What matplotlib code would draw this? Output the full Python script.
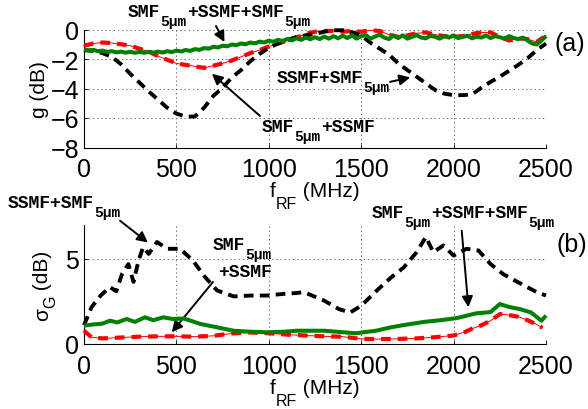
import numpy as np
import matplotlib
matplotlib.use("Agg")
import matplotlib.pyplot as plt

plt.rcParams['lines.scale_dashes'] = False

# ---------------- data ----------------
# (a) gain g (dB) versus RF frequency (MHz)
f_a = np.arange(0, 2501, 50)
g_ssmf_smf5 = [-1.40, -1.45, -1.60, -1.85, -2.35, -3.00, -3.60, -4.20, -4.75, -5.30,
               -5.70, -5.90, -5.90, -5.30, -4.50, -3.95, -3.25, -2.75, -2.15, -1.65,
               -1.25, -0.95, -0.72, -0.50, -0.40, -0.30, -0.15, -0.05, -0.05, -0.20,
               -0.40, -0.90, -1.30, -1.70, -2.30, -2.75, -3.20, -3.65, -4.10, -4.35,
               -4.45, -4.45, -4.40, -3.95, -3.55, -3.20, -2.80, -2.40, -1.95, -1.40,
               -0.95]
g_smf5_ssmf = [-1.10, -0.95, -0.88, -0.92, -1.00, -1.10, -1.30, -1.50, -1.80, -2.05,
               -2.30, -2.40, -2.50, -2.60, -2.45, -2.30, -2.10, -1.85, -1.60, -1.40,
               -1.15, -0.95, -0.75, -0.55, -0.30, -0.15, -0.10, -0.10, -0.15, -0.10,
               -0.15, -0.05, -0.10, -0.35, -0.50, -0.40, -0.25, -0.20, -0.35, -0.45,
               -0.50, -0.45, -0.30, -0.20, -0.20, -0.50, -0.75, -0.60, -0.65, -0.85,
               -0.40]
f_a_fine = np.arange(0, 2501, 25)
g_smf5_ssmf_smf5 = [-1.35, -1.42, -1.38, -1.47, -1.43, -1.52, -1.47, -1.55, -1.50, -1.57,
                    -1.51, -1.58, -1.52, -1.58, -1.51, -1.57, -1.50, -1.56, -1.47, -1.53,
                    -1.43, -1.49, -1.39, -1.45, -1.33, -1.38, -1.26, -1.30, -1.17, -1.22,
                    -1.10, -1.14, -1.02, -1.06, -0.95, -1.00, -0.88, -0.94, -0.82, -0.88,
                    -0.76, -0.83, -0.70, -0.78, -0.64, -0.74, -0.60, -0.70, -0.55, -0.66,
                    -0.52, -0.65, -0.48, -0.62, -0.45, -0.60, -0.42, -0.58, -0.40, -0.62,
                    -0.45, -0.38, -0.62, -0.48, -0.35, -0.55, -0.65, -0.42, -0.58, -0.40,
                    -0.62, -0.50, -0.38, -0.55, -0.60, -0.42, -0.50, -0.62, -0.45, -0.55,
                    -0.40, -0.58, -0.50, -0.42, -0.60, -0.48, -0.55, -0.40, -0.58, -0.45,
                    -0.52, -0.62, -0.45, -0.58, -0.65, -0.55, -0.75, -0.95, -1.02, -0.75,
                    -0.45]

# (b) gain standard deviation sigma_G (dB)
f_b_black = [0, 40, 90, 140, 175, 205, 240, 268, 295, 320, 350, 395, 450, 520, 590,
             650, 720, 810, 900, 990, 1080, 1150, 1190, 1300, 1380, 1440, 1500, 1580,
             1660, 1730, 1800, 1850, 1890, 1945, 2000, 2070, 2135, 2200, 2270, 2380,
             2450, 2500]
s_ssmf_smf5 = [1.10, 2.15, 2.85, 3.35, 3.10, 4.10, 4.70, 3.65, 4.90, 5.70, 5.30, 6.00,
               5.60, 5.60, 4.90, 4.00, 3.15, 2.80, 2.85, 2.85, 2.95, 3.00, 3.05, 2.55,
               2.05, 1.85, 2.25, 3.10, 3.90, 4.50, 5.40, 6.30, 5.40, 5.80, 5.20, 5.60,
               5.50, 4.70, 4.10, 3.45, 3.05, 2.85]
f_b_green = [0, 50, 100, 140, 180, 230, 275, 330, 375, 430, 480, 540, 630, 720, 810,
             900, 990, 1080, 1150, 1300, 1470, 1580, 1660, 1750, 1840, 1930, 2020, 2120,
             2200, 2250, 2300, 2360, 2420, 2475, 2500]
s_smf5_ssmf_smf5 = [1.08, 1.15, 1.20, 1.37, 1.27, 1.47, 1.30, 1.57, 1.40, 1.57, 1.47,
                    1.50, 1.18, 0.98, 0.78, 0.72, 0.69, 0.72, 0.78, 0.78, 0.63, 0.78,
                    0.98, 1.15, 1.30, 1.40, 1.53, 1.80, 1.88, 2.35, 2.18, 2.05, 1.85,
                    1.37, 1.67]
f_b_red = [0, 40, 100, 200, 300, 400, 500, 600, 700, 800, 900, 1000, 1100, 1200, 1300,
           1400, 1500, 1600, 1700, 1800, 1900, 2000, 2060, 2100, 2150, 2200, 2250, 2300,
           2350, 2400, 2450, 2480]
s_smf5_ssmf = [0.78, 0.40, 0.33, 0.38, 0.43, 0.45, 0.45, 0.43, 0.48, 0.62, 0.68, 0.63,
               0.55, 0.50, 0.45, 0.43, 0.30, 0.29, 0.30, 0.33, 0.40, 0.50, 0.70, 0.90,
               1.10, 1.37, 1.76, 1.70, 1.60, 1.40, 1.15, 0.95]

x_ticks = [0, 500, 1000, 1500, 2000, 2500]
y_ticks_a = [-8, -6, -4, -2, 0]
y_ticks_b = [0, 5]

# ---------------- styling ----------------
W, H, DPI = 588, 410, 100
SANS = 'Liberation Sans'
MONO = 'Liberation Mono'
GREEN = '#008000'
RED = '#ff0000'

fig = plt.figure(figsize=(W / DPI, H / DPI), dpi=DPI)
ax1 = fig.add_axes([84 / W, 1 - 148.5 / H, 462 / W, 118 / H])
ax2 = fig.add_axes([84 / W, 1 - 345 / H, 462 / W, 119 / H])


def style_axes(ax, yticks, ylim):
    ax.set_xlim(0, 2500)
    ax.set_ylim(*ylim)
    ax.set_xticks(x_ticks)
    ax.set_yticks(yticks)
    ax.spines['top'].set_visible(False)
    ax.spines['right'].set_visible(False)
    for s in ('left', 'bottom'):
        ax.spines[s].set_linewidth(0.8)
    ax.tick_params(direction='in', length=3, width=0.6, labelsize=18)
    ax.tick_params(axis='x', pad=7)
    ax.tick_params(axis='y', pad=3.5)
    for lab in ax.get_xticklabels() + ax.get_yticklabels():
        lab.set_family(SANS)
    ax.grid(True, color='#555555', linewidth=0.6, linestyle=(0, (1, 2)))
    ax.set_axisbelow(True)


def draw_red(ax, x, y):
    ax.plot(x, y, color=RED, lw=0.7, clip_on=False, zorder=3)
    ax.plot(x, y, color=RED, lw=3.0, linestyle=(0, (7, 5)), dash_capstyle='butt',
            clip_on=False, zorder=3)


def draw_black(ax, x, y):
    ax.plot(x, y, color='k', lw=2.8, linestyle=(0, (7, 4.5)), dash_capstyle='butt',
            clip_on=False, zorder=4)


def draw_green(ax, x, y):
    ax.plot(x, y, color=GREEN, lw=2.9, solid_capstyle='butt', clip_on=False, zorder=5)


style_axes(ax1, y_ticks_a, (-8, 0))
style_axes(ax2, y_ticks_b, (0, 7))

draw_red(ax1, f_a, g_smf5_ssmf)
draw_black(ax1, f_a, g_ssmf_smf5)
draw_green(ax1, f_a_fine, g_smf5_ssmf_smf5)

draw_red(ax2, f_b_red, s_smf5_ssmf)
draw_black(ax2, f_b_black, s_ssmf_smf5)
draw_green(ax2, f_b_green, s_smf5_ssmf_smf5)

# ---------------- text helpers ----------------
renderer = fig.canvas.get_renderer()


def px2fig(x, y):
    return x / W, 1 - y / H


def rich(pieces, x, y, rotation=0, align='left'):
    """Draw consecutive text pieces (text, family, size, weight, drop_px)."""
    placed = []
    pos = 0.0
    for s, fam, size, weight, drop in pieces:
        t = fig.text(0, 0, s, family=fam, fontsize=size, fontweight=weight,
                     ha='left', va='baseline', rotation=rotation,
                     rotation_mode='anchor')
        if fam == MONO:
            adv = len(s) * 0.6 * size * DPI / 72
        else:
            bb = t.get_window_extent(renderer)
            adv = bb.width if rotation == 0 else bb.height
        placed.append((t, pos, drop))
        pos += adv
    shift = -pos / 2 if align == 'center' else 0.0
    for t, p, drop in placed:
        if rotation == 0:
            t.set_position(px2fig(x + p + shift, y + drop))
        else:
            t.set_position(px2fig(x + drop, y - (p + shift)))


def fiber(parts, x, y):
    pieces = []
    for s, sub in parts:
        if sub:
            pieces.append((s, MONO, 10.5, 'bold', 9))
        else:
            pieces.append((s, MONO, 13, 'bold', 0))
    rich(pieces, x, y)


def arrow(ax, tail, tip):
    ax.annotate('', xy=tip, xytext=tail, xycoords='data', textcoords='data',
                annotation_clip=False,
                arrowprops=dict(arrowstyle='-|>', color='k', lw=1.4,
                                mutation_scale=16, shrinkA=0, shrinkB=0))


# axis labels
rich([('f', SANS, 15, 'normal', 0), ('RF', SANS, 11.5, 'normal', 12),
      (' (MHz)', SANS, 15, 'normal', 0)], 315, 197.5, align='center')
rich([('f', SANS, 15, 'normal', 0), ('RF', SANS, 11.5, 'normal', 12),
      (' (MHz)', SANS, 15, 'normal', 0)], 315, 394, align='center')
rich([('g (dB)', SANS, 15, 'normal', 0)], 45, 89.5, rotation=90, align='center')
rich([('σ', SANS, 15, 'normal', 0), ('G', SANS, 11.5, 'normal', 7),
      (' (dB)', SANS, 15, 'normal', 0)], 48, 286, rotation=90, align='center')

# panel tags
fig.text(*px2fig(555, 51), '(a)', family=SANS, fontsize=18, ha='left', va='baseline')
fig.text(*px2fig(556, 252), '(b)', family=SANS, fontsize=18, ha='left', va='baseline')

# fiber-link annotations, panel (a)
fiber([('SMF', 0), ('5μm', 1), ('+SSMF+SMF', 0), ('5μm', 1)], 128, 17)
arrow(ax1, (714, 0.24), (760, -0.85))
fiber([('SSMF+SMF', 0), ('5μm', 1)], 277, 83.3)
arrow(ax1, (1656, -3.55), (1765, -3.25))
fiber([('SMF', 0), ('5μm', 1), ('+SSMF', 0)], 262, 131.7)
arrow(ax1, (952, -5.86), (692, -3.0))

# fiber-link annotations, panel (b)
fiber([('SSMF+SMF', 0), ('5μm', 1)], 8, 208.3)
arrow(ax2, (195, 7.25), (346, 5.97))
fiber([('SMF', 0), ('5μm', 1)], 213, 250)
fiber([('+SSMF', 0)], 218, 276.7)
arrow(ax2, (698, 3.65), (475, 0.69))
fiber([('SMF', 0), ('5μm', 1), ('+SSMF+SMF', 0), ('5μm', 1)], 372, 218.3)
arrow(ax2, (2044, 6.66), (2080, 2.16))

fig.savefig('out.png', dpi=DPI)
